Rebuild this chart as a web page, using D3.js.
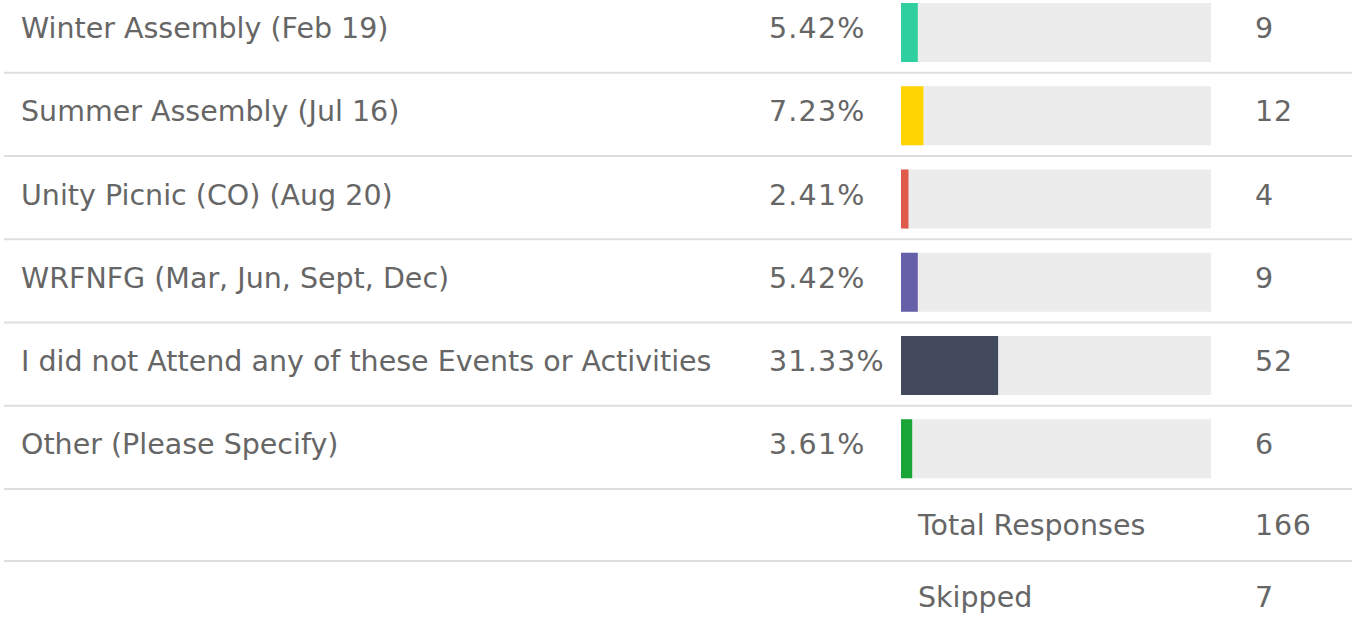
<!DOCTYPE html>
<html>
  <head>
  <title>Events</title>
  <style>
    body, html {
      margin: 0;
      padding: 0;
      background: #fff;
    }
  </style>
  </head>
  <body>

  <svg id="svg" width="1356" height="618"></svg>
  <script src="https://d3js.org/d3.v7.min.js"></script>
  <script>
      const categories = [
        'Winter Assembly (Feb 19)',
        'Summer Assembly (Jul 16)',
        'Unity Picnic (CO) (Aug 20)',
        'WRFNFG (Mar, Jun, Sept, Dec)',
        'I did not Attend any of these Events or Activities',
        'Other (Please Specify)'
      ]
      const percents = [5.42, 7.23, 2.41, 5.42, 31.33, 3.61]
      const counts = [9, 12, 4, 9, 52, 6]
      const colors = ['#2fcf9f', '#ffd400', '#e05a4b', '#6660a8', '#434a5e', '#1aa537']
      const footerLabels = ['Total Responses', 'Skipped']
      const footerValues = [166, 7]

      const width = 1356
      const font = 'Verdana, "DejaVu Sans", sans-serif'
      const fontSize = 28.5
      const textColor = '#666'

      const svg = d3.select('#svg')

      const y = d3.scaleBand()
          .domain(categories)
          .range([-10, 489.5])
      const x = d3.scaleLinear()
          .domain([0, 100])
          .range([0, 310])
      const barX = 901

      const rows = svg.selectAll('g.row')
          .data(categories)
          .join('g')
          .attr('class', 'row')
          .attr('transform', d => `translate(0, ${y(d)})`)

      rows.append('line')
          .attr('x1', 4).attr('x2', width - 4)
          .attr('y1', y.bandwidth() - 0.5).attr('y2', y.bandwidth() - 0.5)
          .attr('stroke', '#dedede')
          .attr('stroke-width', 2)

      rows.append('rect')
          .attr('x', barX)
          .attr('y', 13)
          .attr('width', x(100))
          .attr('height', 59)
          .attr('fill', '#ececec')

      rows.append('rect')
          .attr('x', barX)
          .attr('y', 13)
          .attr('width', (d, i) => x(percents[i]))
          .attr('height', 59)
          .attr('fill', (d, i) => colors[i])

      const addText = (sel, xPos, yPos, fn) => sel.append('text')
          .attr('x', xPos)
          .attr('y', yPos)
          .attr('font-family', font)
          .attr('font-size', fontSize)
          .attr('fill', textColor)
          .text(fn)

      addText(rows, 21, 48, d => d)
      addText(rows, 769, 48, (d, i) => percents[i].toFixed(2) + '%')
          .attr('letter-spacing', 1.2)
      addText(rows, 1255, 48, (d, i) => counts[i])
          .attr('letter-spacing', 0.8)

      // footer rows
      const fy = d3.scaleBand()
          .domain(footerLabels)
          .range([489, 633])

      const foot = svg.selectAll('g.foot')
          .data(footerLabels)
          .join('g')
          .attr('class', 'foot')
          .attr('transform', d => `translate(0, ${fy(d)})`)

      foot.filter((d, i) => i === 0).append('line')
          .attr('x1', 4).attr('x2', width - 4)
          .attr('y1', 72).attr('y2', 72)
          .attr('stroke', '#dedede')
          .attr('stroke-width', 2)

      addText(foot, 918, 45.5, d => d)
      addText(foot, 1255, 45.5, (d, i) => footerValues[i])
          .attr('letter-spacing', 0.8)
  </script>
</body>
</html>
